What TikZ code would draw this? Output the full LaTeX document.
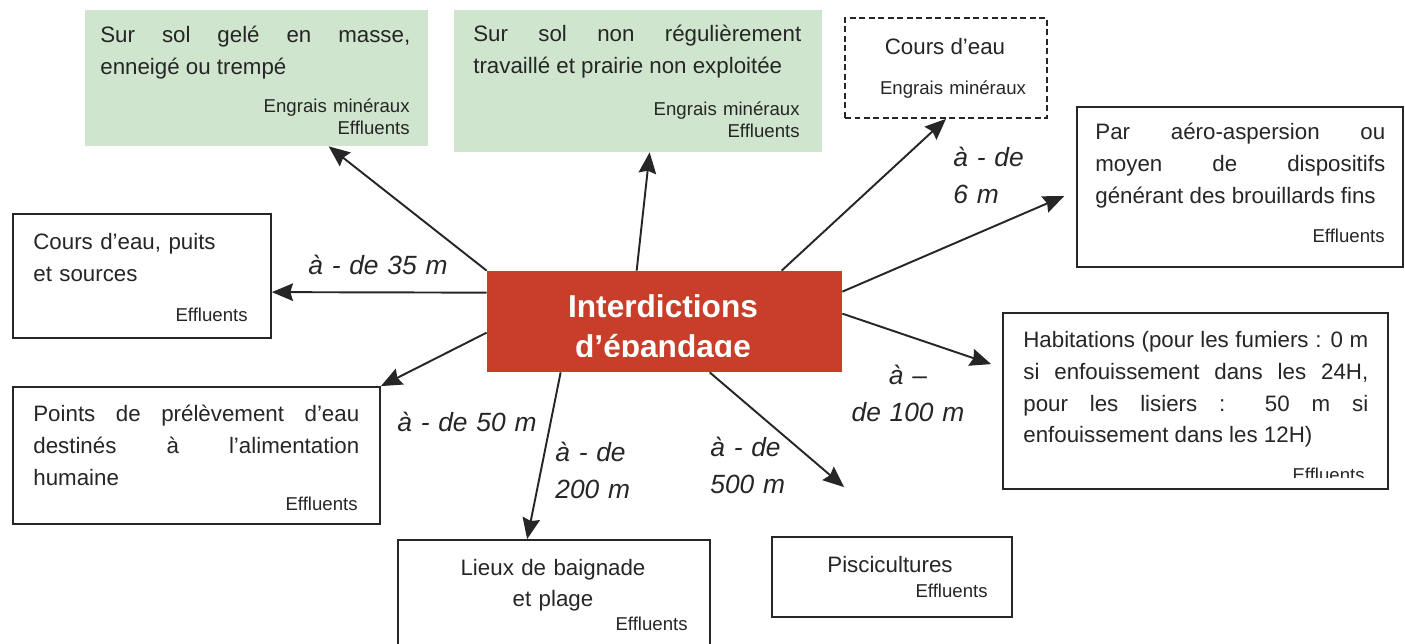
\documentclass[tikz,border=0pt]{standalone}
\usepackage{fontspec}
\setmainfont{Liberation Sans}
\usetikzlibrary{arrows.meta, fit}

\definecolor{prairie}{RGB}{207,229,206}
\definecolor{brique}{RGB}{201,62,42}
\definecolor{encre}{RGB}{38,38,38}

\begin{document}
\begin{tikzpicture}[x=0.02cm, y=-0.02cm,
	greenbox/.style={fill=prairie, inner sep=0pt},
	plainbox/.style={draw=encre, line width=1pt, fill=white, inner sep=0pt},
	dashbox/.style={plainbox, dash pattern=on 3.4pt off 2pt},
	centrebox/.style={fill=brique, inner sep=0pt},
	bodytxt/.style={inner sep=0pt, text=encre, align=justify, anchor=base west,
		font=\fontsize{12.7}{18}\selectfont},
	smalltxt/.style={inner sep=0pt, text=encre, align=right, anchor=base east,
		text width=3.2cm, font=\fontsize{10.6}{12.5}\selectfont},
	disttxt/.style={inner sep=0pt, text=encre, align=left, anchor=base west,
		text width=4cm, font=\fontsize{15}{20.7}\selectfont\itshape},
	interdarrow/.style={draw=encre, line width=1.1pt,
		-{Stealth[length=12pt,width=10pt,inset=1.5pt]}}]
	\useasboundingbox (0,0) rectangle (1405,644);
	\clip (0,0) rectangle (1405,644);

		%boxes
	\node[greenbox, fit={(85,10) (428,146)}] (solgele) {};
	\node[greenbox, fit={(454,10) (822,152)}] (solnon) {};
	\node[dashbox, fit={(845,18) (1047,118)}] (cdeau) {};
	\node[plainbox, fit={(1077,107) (1403,267)}] (aero) {};
	\node[plainbox, fit={(1003,313) (1388,489)}] (habit) {};
	\node[plainbox, fit={(13,214) (271,338)}] (cpuits) {};
	\node[plainbox, fit={(13,387) (380,524)}] (points) {};
	\node[plainbox, fit={(398,540) (710,660)}] (lieux) {};
	\node[plainbox, fit={(772,537) (1012,617)}] (pisci) {};
	\node[centrebox, fit={(487,271) (842,372)}] (interd) {};

		%texts of the boxes
	\node[bodytxt, text width=6.2cm] (solgeletxt) at (100,43)
		{Sur sol gelé en masse,\linebreak enneigé ou trempé};
	\node[smalltxt] (solgelesub) at (410,113) {Engrais minéraux\\Effluents};

	\node[bodytxt, text width=6.56cm] (solnontxt) at (473,42)
		{Sur sol non régulièrement\linebreak travaillé et prairie non exploitée};
	\node[smalltxt] (solnonsub) at (800,116) {Engrais minéraux\\Effluents};

	\node[bodytxt, align=center, anchor=base] (cdeautxt) at (945,55) {Cours d’eau};
	\node[smalltxt, align=center, anchor=base] (cdeausub) at (953,95) {Engrais minéraux};

	\node[bodytxt, text width=5.8cm] (aerotxt) at (1095,140)
		{Par aéro-aspersion ou\linebreak moyen de dispositifs\linebreak
		\mbox{générant des brouillards fins}};
	\node[smalltxt] (aerosub) at (1385,243) {Effluents};

	\node[bodytxt, text width=6.9cm] (habittxt) at (1023,348)
		{Habitations (pour les fumiers : 0 m\linebreak si enfouissement dans les 24H,\linebreak
		pour les lisiers : 50 m si\linebreak \mbox{enfouissement dans les 12H)}};
	\begin{scope}
		\clip (1003,313) rectangle (1388,478);
		\node[smalltxt] (habitsub) at (1365,481) {Effluents};
	\end{scope}

	\node[bodytxt, align=left, text width=4.5cm] (cpuitstxt) at (33,250)
		{Cours d’eau, puits\\et sources};
	\node[smalltxt] (cpuitssub) at (248,322) {Effluents};

	\node[bodytxt, text width=6.52cm] (pointstxt) at (33,422)
		{Points de prélèvement d’eau\linebreak destinés à l’alimentation\linebreak humaine};
	\node[smalltxt] (pointssub) at (358,510) {Effluents};

	\node[bodytxt, align=center, text width=6cm, anchor=base] (lieuxtxt) at (553,575)
		{Lieux de baignade\\et plage};
	\node[smalltxt] (lieuxsub) at (688,630) {Effluents};

	\node[bodytxt, align=center, anchor=base] (piscitxt) at (890,572) {Piscicultures};
	\node[smalltxt] (piscisub) at (988,597) {Effluents};

		%title, cut at the bottom like the original
	\begin{scope}
		\clip (487,271) rectangle (842,357);
		\node[inner sep=0pt, text=white, align=center, text width=6.5cm, anchor=base,
			font=\fontsize{18}{22.7}\selectfont\bfseries] (interdtxt) at (663,318)
			{Interdictions\\d’épandage};
	\end{scope}

		%arrows
	\draw[interdarrow] (interd.north west) -- ([shift={(244,0)}]solgele.south west);
	\draw[interdarrow] ([shift={(150,0)}]interd.north west) -- ([shift={(196,0)}]solnon.south west);
	\draw[interdarrow] ([shift={(295,0)}]interd.north west) -- (cdeau.south);
	\draw[interdarrow] ([shift={(0,21)}]interd.north east) -- ([shift={(-12,90)}]aero.north west);
	\draw[interdarrow] ([shift={(0,43)}]interd.north east) -- ([shift={(-11,52)}]habit.north west);
	\draw[interdarrow] ([shift={(0,22)}]interd.north west) -- ([shift={(0,79)}]cpuits.north east);
	\draw[interdarrow] ([shift={(0,62)}]interd.north west) -- (points.north east);
	\draw[interdarrow] ([shift={(74,0)}]interd.south west) -- ([shift={(130,0)}]lieux.north west);
	\draw[interdarrow] ([shift={(223,0)}]interd.south west) -- ([shift={(73,-49)}]pisci.north west);

		%distances
	\node[disttxt] (d35) at (308,275) {à - de 35 m};
	\node[disttxt] (d50) at (397,432) {à - de 50 m};
	\node[disttxt] (d200) at (555,462) {à - de\\200 m};
	\node[disttxt] (d500) at (710,457) {à - de\\500 m};
	\node[disttxt, align=center, anchor=base] (d100) at (908,385) {à –\\de 100 m};
	\node[disttxt] (d6) at (953,167) {à - de\\6 m};
\end{tikzpicture}
\end{document}
